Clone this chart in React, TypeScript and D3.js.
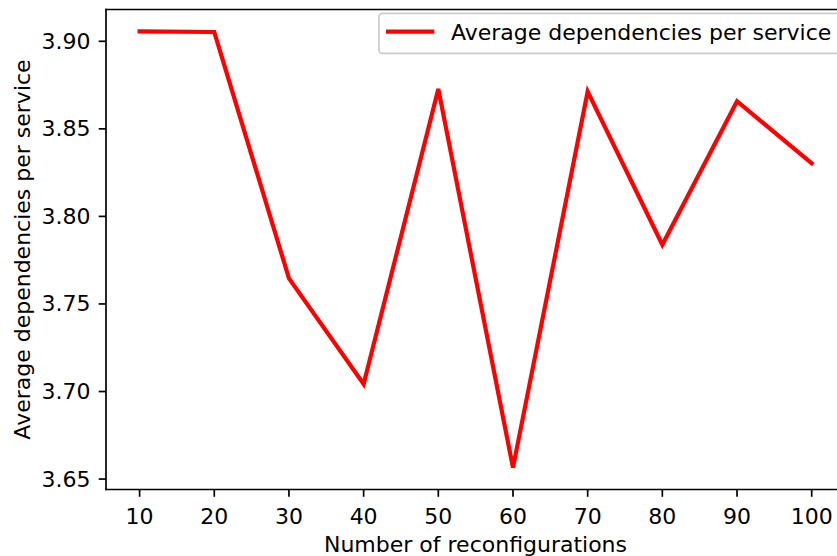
import React from "react";
import * as d3 from "d3";

const reconfigurations = [10, 20, 30, 40, 50, 60, 70, 80, 90, 100];
const avgDependencies = [3.9057, 3.9053, 3.7646, 3.7043, 3.8728, 3.6565, 3.8713, 3.7838, 3.8658, 3.8303];
const xTicks = [10, 20, 30, 40, 50, 60, 70, 80, 90, 100];
const yTicks = [3.65, 3.7, 3.75, 3.8, 3.85, 3.9];
const seriesName = "Average dependencies per service";
const xTitle = "Number of reconfigurations";
const yTitle = "Average dependencies per service";

const W = 837;
const H = 556;
const FONT = "DejaVu Sans";
const FS = 22;

export default function App() {
  const left = 106;
  const right = 845.3;
  const top = 9.5;
  const bottom = 489.5;

  const xMin = d3.min(reconfigurations)!;
  const xMax = d3.max(reconfigurations)!;
  const xPad = (xMax - xMin) * 0.05;
  const yMin = d3.min(avgDependencies)!;
  const yMax = d3.max(avgDependencies)!;
  const yPad = (yMax - yMin) * 0.05;

  const x = d3.scaleLinear().domain([xMin - xPad, xMax + xPad]).range([left, right]);
  const y = d3.scaleLinear().domain([yMin - yPad, yMax + yPad]).range([bottom, top]);

  const line = d3
    .line<number>()
    .x((_, i) => x(reconfigurations[i]))
    .y((d) => y(d));

  const spineW = 1.7;

  return (
    <div style={{ position: "absolute", left: 0, top: 0 }}>
      <svg width={W} height={H} style={{ display: "block", background: "#fff" }} fontFamily={FONT}>
        <rect x={0} y={0} width={W} height={H} fill="#fff" />
        {/* data line */}
        <path d={line(avgDependencies)!} fill="none" stroke="#ff0000" strokeWidth={4.2} strokeLinejoin="miter" strokeLinecap="square" />
        {/* spines */}
        <line x1={left} x2={left} y1={top} y2={bottom} stroke="#000" strokeWidth={spineW} strokeLinecap="square" />
        <line x1={left} x2={right} y1={bottom} y2={bottom} stroke="#000" strokeWidth={spineW} strokeLinecap="square" />
        <line x1={left} x2={right} y1={top} y2={top} stroke="#000" strokeWidth={spineW} strokeLinecap="square" />
        <line x1={right} x2={right} y1={top} y2={bottom} stroke="#000" strokeWidth={spineW} />
        {/* x ticks */}
        {xTicks.map((t) => (
          <g key={"x" + t}>
            <line x1={x(t)} x2={x(t)} y1={bottom} y2={bottom + 7.3} stroke="#000" strokeWidth={spineW} />
            <text x={x(t)} y={524} textAnchor="middle" fontSize={FS} fill="#000">
              {t}
            </text>
          </g>
        ))}
        {/* y ticks */}
        {yTicks.map((t) => (
          <g key={"y" + t}>
            <line x1={left - 7.3} x2={left} y1={y(t)} y2={y(t)} stroke="#000" strokeWidth={spineW} />
            <text x={left - 15.5} y={y(t)} textAnchor="end" dominantBaseline="central" fontSize={FS} fill="#000">
              {t.toFixed(2)}
            </text>
          </g>
        ))}
        {/* axis titles */}
        <text x={475.5} y={552} textAnchor="middle" fontSize={FS} fill="#000">
          {xTitle}
        </text>
        <text
          transform={`translate(${30}, ${(top + bottom) / 2}) rotate(-90)`}
          textAnchor="middle"
          fontSize={FS}
          fill="#000"
        >
          {yTitle}
        </text>
        {/* legend */}
        <g>
          <rect x={379} y={13.3} width={480} height={40} rx={3.5} ry={3.5} fill="#fff" fillOpacity={0.8} stroke="#cccccc" strokeWidth={1.7} />
          <line x1={386} x2={434.3} y1={31.7} y2={31.7} stroke="#ff0000" strokeWidth={4.2} />
          <text x={451} y={32} dominantBaseline="central" fontSize={FS} fill="#000">
            {seriesName}
          </text>
        </g>
      </svg>
    </div>
  );
}
